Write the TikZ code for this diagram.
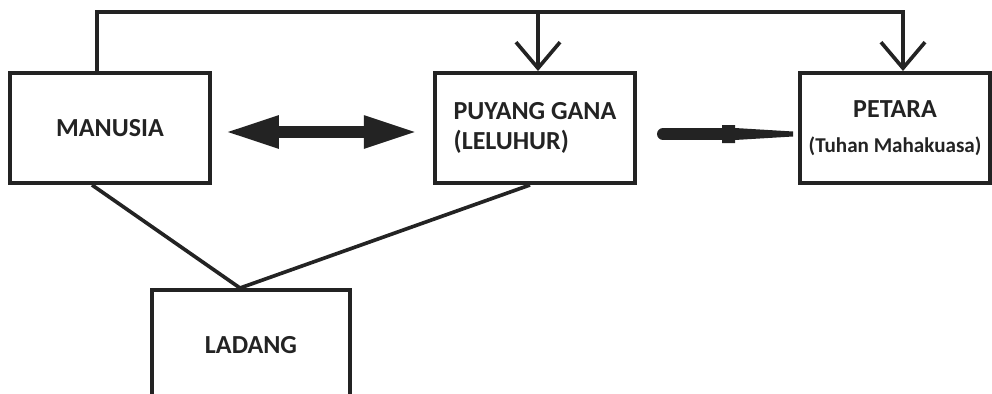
\documentclass[tikz,border=0pt]{standalone}
\usepackage{fontspec}
\setmainfont{Carlito}
\usetikzlibrary{arrows.meta,calc}
\definecolor{ink}{HTML}{232323}

\begin{document}
\begin{tikzpicture}[x=0.025cm, y=-0.025cm, line width=2.6pt, draw=ink,
  box/.style={draw=ink, line width=2.8pt, minimum height=2.75cm, inner sep=0pt,
    font=\fontsize{18.5}{21}\selectfont\bfseries, text=ink},
  barb/.style={-{Straight Barb[length=0.65cm, width=1.1cm, line width=2.6pt]}},
  dbl/.style={ink, line width=0.28cm,
    {Triangle[length=1.35cm, width=0.75cm]}-{Triangle[length=1.35cm, width=0.75cm]}}]
\useasboundingbox (0,0) rectangle (992,394);
\node[box, minimum width=5cm] (manusia) at (110,128) {MANUSIA\hspace{14pt}};
\node[box, minimum width=5cm, align=left] (puyang) at (535,128) {PUYANG GANA\\(LELUHUR)};
\node[box, minimum width=4.75cm, align=center] (petara) at (895,128)
  {PETARA\\[4pt]{\fontsize{15}{17}\selectfont(Tuhan Mahakuasa)}};
\node[box, minimum width=4.95cm] (ladang) at (251,345) {LADANG};
% top line from manusia
\coordinate (top) at (0,12);
\coordinate (pin) at ($(puyang.north)+(3,0)$);
\draw[barb] ($(manusia.north)+(-13,0)$) |- (top -| 903,0) -- ($(petara.north)+(8,0)$);
\draw[barb] (pin |- top) -- (pin);
% manusia <-> puyang
\coordinate (mid) at (0,132);
\draw[dbl, shorten <=0.32cm, shorten >=0.38cm] (manusia.east |- mid) -- (puyang.west |- mid);
% puyang -> petara
\coordinate (pen) at (722,134);
\draw[ink, line width=0.3cm, line cap=round, shorten <=0.65cm] (puyang.east |- pen) -- (pen);
\fill[ink] (pen) ++(0,-9) -- ++(13,0) -- ++(0,3) -- ++(58,3.5) -- ++(0,5)
  -- ++(-58,3.5) -- ++(0,3) -- ++(-13,0) -- cycle;
% lines down to ladang
\draw ($(manusia.south)+(-18,0)$) -- ($(ladang.north)+(-11,0)$) -- ($(puyang.south)+(-5,0)$);
\end{tikzpicture}
\end{document}
